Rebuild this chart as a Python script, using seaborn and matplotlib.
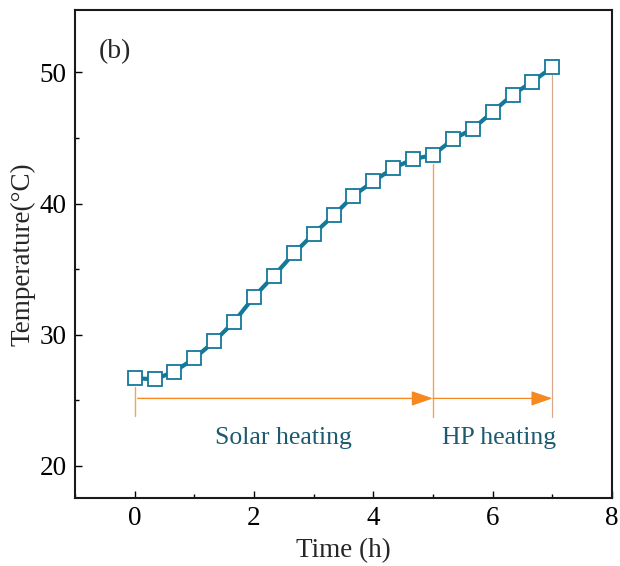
import matplotlib
matplotlib.use("Agg")
import matplotlib.pyplot as plt
import seaborn as sns
import pandas as pd
from matplotlib.ticker import MultipleLocator

sns.set_theme(style="white")
plt.rcParams['font.family'] = ['Liberation Serif', 'DejaVu Serif']
plt.rcParams['mathtext.fontset'] = 'stix'

time_h = [0, 1/3, 2/3, 1, 4/3, 5/3, 2, 7/3, 8/3, 3, 10/3, 11/3, 4, 13/3, 14/3, 5,
          16/3, 17/3, 6, 19/3, 20/3, 7]
temperature = [26.7, 26.6, 27.2, 28.2, 29.5, 31.0, 32.9, 34.5, 36.2, 37.7, 39.1, 40.6,
               41.7, 42.7, 43.4, 43.7, 44.9, 45.7, 47.0, 48.3, 49.3, 50.4]
df = pd.DataFrame({"Time (h)": time_h, "Temperature": temperature})

line_color = "#13789a"
orange = "#f5891f"
text_color = "#1b5a70"

fig = plt.figure(figsize=(6.2, 5.66), dpi=100)
ax = fig.add_axes([0.121, 0.12, 0.866, 0.862])

sns.lineplot(data=df, x="Time (h)", y="Temperature", ax=ax, color=line_color,
             linewidth=3, marker="s", markersize=9.5, markerfacecolor="white",
             markeredgecolor=line_color, markeredgewidth=1.3)

# vertical guide lines
ax.plot([0, 0], [23.8, 26.0], color="#f5a455", lw=1)
ax.plot([5, 5], [23.7, 43.0], color="#f5a455", lw=1)
ax.plot([7, 7], [23.7, 49.8], color="#d8a890", lw=0.9)

# arrows
ax.annotate("", xy=(5, 25.15), xytext=(0.05, 25.15),
            arrowprops=dict(arrowstyle="-|>,head_length=1.1,head_width=0.38",
                            color=orange, lw=1.0, shrinkA=0, shrinkB=0))
ax.annotate("", xy=(7, 25.15), xytext=(5, 25.15),
            arrowprops=dict(arrowstyle="-|>,head_length=1.1,head_width=0.38",
                            color=orange, lw=0.9, shrinkA=0, shrinkB=0))

ax.text(2.5, 22.1, "Solar heating", color=text_color, fontsize=18.5, ha="center", va="center")
ax.text(6.1, 22.1, "HP heating", color=text_color, fontsize=18.5, ha="center", va="center")
ax.text(0.045, 0.915, "(b)", transform=ax.transAxes, fontsize=20, ha="left", va="center")

ax.set_xlim(-1, 8)
ax.set_ylim(17.55, 54.75)
ax.xaxis.set_major_locator(MultipleLocator(2))
ax.xaxis.set_minor_locator(MultipleLocator(1))
ax.yaxis.set_major_locator(MultipleLocator(10))
ax.yaxis.set_minor_locator(MultipleLocator(5))
ax.tick_params(which="both", direction="in", bottom=True, left=True, top=False, right=False,
               labelsize=19.5, colors="black", pad=6)
ax.tick_params(which="major", length=5, width=1)
ax.tick_params(which="minor", length=3, width=1)
for s in ax.spines.values():
    s.set_color("#1a1a1a")
    s.set_linewidth(1.5)

ax.set_xlabel("Time (h)", fontsize=19.5, labelpad=5)
ax.set_ylabel("Temperature(°C)", fontsize=19.5, labelpad=3)

fig.savefig("out.png", dpi=100, facecolor="white")
